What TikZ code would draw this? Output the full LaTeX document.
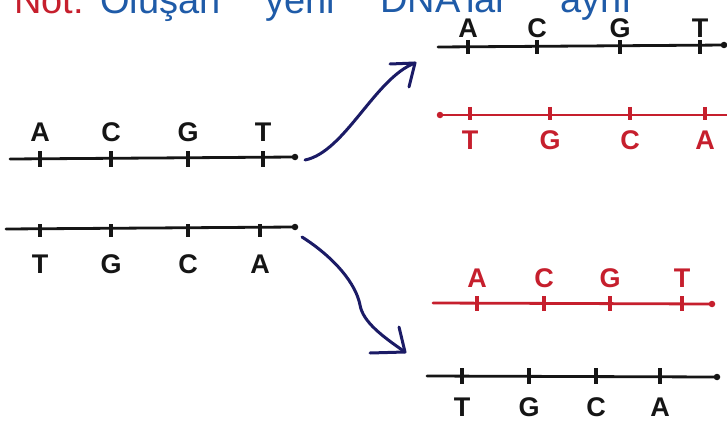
\documentclass[tikz,border=0pt]{standalone}
\usepackage{fontspec}
\setmainfont{Liberation Sans}
\definecolor{ink}{HTML}{151515}
\definecolor{rd}{HTML}{C61F2D}
\definecolor{bl}{HTML}{1F5BA8}
\definecolor{nv}{HTML}{1B1B66}
\tikzset{
  strand/.style={line width=2.8pt, line cap=round},
  tickmark/.style={line width=3.4pt},
  base/.style={font=\fontsize{27}{29}\bfseries\selectfont, inner sep=0pt},
  enddot/.style={circle, fill, inner sep=0pt, minimum size=6.5pt},
  arr/.style={draw=nv, line width=3pt, line cap=round, line join=round},
  note/.style={font=\fontsize{38}{40}\selectfont, inner sep=0pt, anchor=base west}
}
\begin{document}
\begin{tikzpicture}[x=1pt,y=-1pt]
\useasboundingbox (0,0) rectangle (727,425);
\fill[white] (0,0) rectangle (727,425);

% heading (cut at the top edge, as in the reference)
\node[note, rd] (n0) at (14,14) {Not:};
\node[note, bl] (n1) at (100,14) {Oluşan};
\node[note, bl] (n2) at (265,14) {yeni};
\node[note, bl] (n3) at (380,13) {DNA'lar};
\node[note, bl] (n4) at (560,13) {aynı};

% ---- left, upper strand (black)
\coordinate (L1s) at (10,159); \coordinate (L1e) at (295,157);
\draw[strand, ink] (L1s) -- (L1e);
\node[enddot, ink] (L1d) at (L1e) {};
\foreach \x/\b [count=\i] in {40/A,111/C,188/G,263/T}{
  \draw[tickmark, ink] (\x,151) -- (\x,167);
  \node[base, ink] (la\i) at (\x,132) {\b};
}

% ---- left, lower strand (black)
\coordinate (L2s) at (6,229); \coordinate (L2e) at (295,227);
\draw[strand, ink] (L2s) -- (L2e);
\node[enddot, ink] (L2d) at (L2e) {};
\foreach \x/\b [count=\i] in {40/T,111/G,188/C,260/A}{
  \draw[tickmark, ink] (\x,224) -- (\x,237);
  \node[base, ink] (lb\i) at (\x,264) {\b};
}

% ---- top right, black strand
\coordinate (R1s) at (438,47); \coordinate (R1e) at (727,45);
\draw[strand, ink] (R1s) -- (R1e);
\node[enddot, ink] (R1d) at (724,45) {};
\foreach \x/\b [count=\i] in {468/A,537/C,620/G,700/T}{
  \draw[tickmark, ink] (\x,40) -- (\x,54);
  \node[base, ink] (ra\i) at (\x,28) {\b};
}

% ---- top right, red strand
\coordinate (R2s) at (440,115); \coordinate (R2e) at (727,115);
\draw[strand, rd] (R2s) -- (R2e);
\node[enddot, rd] (R2d) at (R2s) {};
\foreach \x/\b [count=\i] in {470/T,550/G,630/C,705/A}{
  \draw[tickmark, rd] (\x,107) -- (\x,120);
  \node[base, rd] (rb\i) at (\x,140) {\b};
}

% ---- bottom right, red strand
\coordinate (R3s) at (433,303); \coordinate (R3e) at (712,304);
\draw[strand, rd] (R3s) -- (R3e);
\node[enddot, rd] (R3d) at (R3e) {};
\foreach \x/\b [count=\i] in {477/A,544/C,610/G,682/T}{
  \draw[tickmark, rd] (\x,296) -- (\x,311);
  \node[base, rd] (rc\i) at (\x,278) {\b};
}

% ---- bottom right, black strand
\coordinate (R4s) at (427,376); \coordinate (R4e) at (717,377);
\draw[strand, ink] (R4s) -- (R4e);
\node[enddot, ink] (R4d) at (R4e) {};
\foreach \x/\b [count=\i] in {462/T,529/G,596/C,660/A}{
  \draw[tickmark, ink] (\x,368) -- (\x,384);
  \node[base, ink] (rd\i) at (\x,407) {\b};
}

% ---- arrows
\coordinate (ua) at (305,160); \coordinate (ub) at (415,63);
\draw[arr] (ua) .. controls (345,152) and (375,78) .. (ub);
\coordinate (uh1) at (390,64); \coordinate (uh2) at (409,87);
\draw[arr] (uh1) -- (ub) -- (uh2);

\coordinate (da) at (302,237); \coordinate (db) at (405,352);
\coordinate (dm) at (360,305);
\draw[arr] (da) .. controls (335,258) and (356,284) .. (dm)
           .. controls (363,322) and (382,336) .. (db);
\coordinate (dh1) at (370,353); \coordinate (dh2) at (399,327);
\draw[arr] (dh1) -- (db) -- (dh2);
\end{tikzpicture}
\end{document}
